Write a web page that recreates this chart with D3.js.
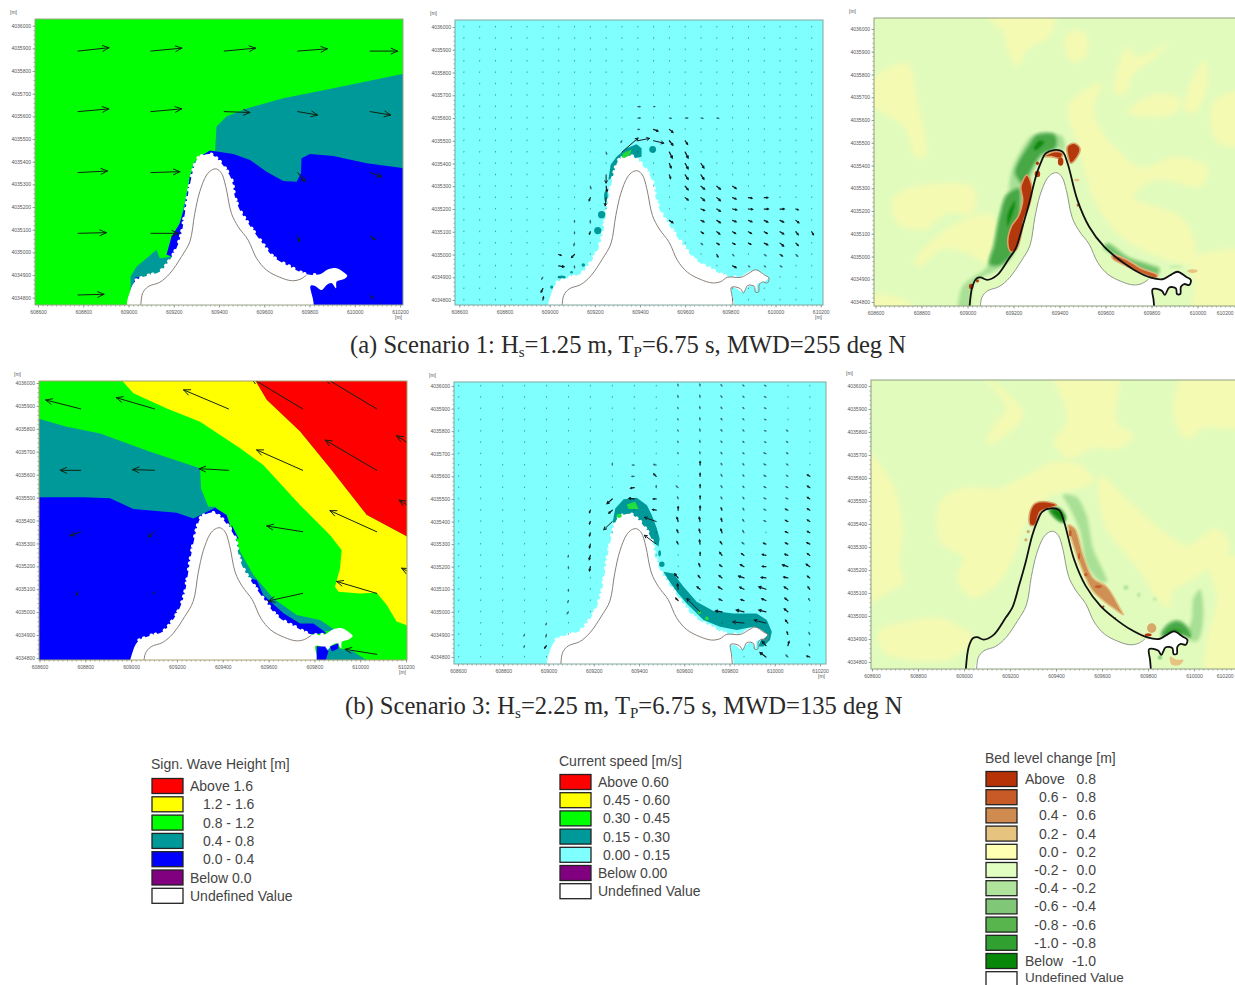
<!DOCTYPE html>
<html><head><meta charset="utf-8">
<script src="https://cdn.jsdelivr.net/npm/d3@7"></script>
<style>html,body{margin:0;background:#fff;overflow:hidden}svg{display:block}</style>
</head><body><svg id="c" width="1235" height="985"></svg>
<script>
// ---------- axis ticks (map metres) ----------
const eastTicks=[608600,608800,609000,609200,609400,609600,609800,610000,610200];
const northTicks=[4034800,4034900,4035000,4035100,4035200,4035300,4035400,4035500,4035600,4035700,4035800,4035900,4036000];

// ---------- shorelines [easting, northing] ----------
const landEdge=[[609054,4034740],[609062,4034819],[609087,4034849],[609138,4034868],[609183,4034907],[609234,4034981],[609271,4035047],[609293,4035172],[609315,4035268],[609345,4035341],[609367,4035363],[609389,4035368],[609411,4035349],[609430,4035290],[609455,4035172],[609485,4035113],[609529,4035054],[609566,4034974],[609610,4034922],[609669,4034890],[609721,4034875],[609758,4034881],[609787,4034900]];
const coastMain=[[609006,4034740],[609021,4034867],[609040,4034904],[609057,4034908],[609086,4034897],[609130,4034919],[609181,4034992],[609210,4035036],[609239,4035131],[609268,4035234],[609297,4035351],[609318,4035410],[609340,4035453],[609376,4035468],[609413,4035461],[609435,4035410],[609478,4035248],[609529,4035131],[609594,4035043],[609652,4034992],[609725,4034941],[609797,4034907]];
const coastHook=[[609848,4034900],[609884,4034919],[609913,4034933],[609950,4034911],[609971,4034897],[609964,4034875],[609942,4034879],[609928,4034867],[609925,4034835],[609911,4034835],[609906,4034860],[609877,4034864],[609858,4034831],[609844,4034850],[609805,4034856],[609809,4034809],[609815,4034740]];
const wetWest=[[609003,4034740],[609009,4034834],[609035,4034878],[609079,4034896],[609138,4034915],[609183,4034967],[609212,4035018],[609234,4035084],[609249,4035172],[609264,4035261],[609286,4035363],[609301,4035408],[609315,4035422],[609360,4035434],[609397,4035408],[609433,4035363],[609456,4035319],[609470,4035246],[609492,4035187],[609529,4035128],[609581,4035055],[609640,4034981],[609714,4034937],[609787,4034903],[609846,4034903]];
const wetHook=[[609883,4034925],[609920,4034930],[609957,4034908],[609967,4034896],[609950,4034881],[609920,4034871],[609917,4034842],[609898,4034864],[609876,4034856],[609854,4034834],[609824,4034852],[609805,4034852],[609810,4034740]];

// ---------- Scenario 1 wave height ----------
const a1Teal=[[610260,4035797],[609905,4035724],[609684,4035680],[609522,4035635],[609433,4035599],[609389,4035555],[609383,4035452],[609383,4035380],[609700,4035260],[610260,4035280]];
const a1Blue=[[609360,4035449],[609463,4035434],[609537,4035408],[609610,4035356],[609684,4035315],[609743,4035312],[609762,4035349],[609765,4035415],[609802,4035434],[609905,4035425],[610053,4035393],[610260,4035366],[610260,4034740],[609463,4034740],[609315,4035422]];
const a1TealWest=[[609009,4034893],[609035,4034937],[609124,4035011],[609138,4034974],[609183,4034981],[609197,4035025],[609234,4035158],[609286,4035393],[609315,4035422],[609227,4034952],[609079,4034864],[609009,4034790]];
const a1BlueWest=[[609301,4035408],[609271,4035334],[609253,4035216],[609227,4035128],[609190,4035069],[609168,4034989],[609197,4034981],[609256,4035099],[609301,4035290]];
const a1BlueFoot=[[609030,4034890],[609018,4034850],[609040,4034860],[609050,4034890]];
// wave arrows: easting, northing, dE, dN (metres)
const a1Arrows=[[608777,4035888,137,15],[609099,4035888,137,13],[609423,4035888,139,13],[609748,4035888,131,10],[610068,4035888,121,0],
[608777,4035621,136,12],[609099,4035621,136,12],[609423,4035621,114,-4],[609748,4035621,88,-15],[610068,4035621,91,-15],
[608777,4035352,130,7],[609099,4035352,128,4],[609748,4035352,32,-40],[610068,4035352,52,-18],
[608777,4035084,125,3],[609099,4035084,121,0],[609748,4035072,6,-25],[610068,4035072,22,-15],
[608777,4034812,115,3],[610068,4034812,12,-15]];

// ---------- Scenario 3 wave height ----------
const b1Red=[[609512,4036060],[610260,4036060],[610260,4035300],[610028,4035424],[609868,4035628],[609737,4035788],[609592,4035926]];
const b1Yellow=[[608916,4036060],[609512,4036060],[609592,4035926],[609737,4035788],[609868,4035628],[610028,4035424],[610260,4035300],[610260,4034922],[610159,4034959],[610116,4035031],[610072,4035085],[609999,4035082],[609905,4035089],[609890,4035111],[609912,4035191],[609919,4035271],[609868,4035337],[609737,4035468],[609577,4035642],[609476,4035715],[609301,4035831],[609156,4035889],[609010,4035955]];
const b1Teal=[[608540,4035860],[608719,4035809],[608865,4035780],[609083,4035700],[609301,4035628],[609305,4035540],[609337,4035460],[609374,4035460],[609301,4035380],[608540,4035380]];
const b1Blue=[[608540,4035501],[608792,4035501],[608908,4035497],[609010,4035450],[609199,4035434],[609272,4035409],[609316,4035431],[609367,4035456],[609417,4035424],[609432,4035380],[609374,4034740],[608540,4034740]];
const b1TealEast=[[609439,4035380],[609476,4035264],[609534,4035162],[609621,4035060],[609723,4034988],[609825,4034966],[609890,4034922],[609737,4034900],[609447,4035206]];
const b1BlueEast=[[609548,4035140],[609577,4035075],[609665,4034995],[609737,4034951],[609796,4034951],[609854,4034908],[609737,4034900],[609592,4035017],[609512,4035148]];
const b1TealHook=[[609912,4034842],[609970,4034828],[610028,4034790],[610040,4034740],[609825,4034740],[609810,4034850]];
const b1BlueHookA=[[609810,4034850],[609847,4034850],[609861,4034828],[609847,4034780],[609810,4034780]];
const b1BlueHookB=[[609868,4034850],[609905,4034864],[609905,4034842],[609876,4034828]];
const b1BlueEdge=[[609439,4035380],[609461,4035337],[609470,4035320],[609440,4035330]];
const b1Arrows=[[608780,4035887,-153,39],[609102,4035887,-167,49],[609425,4035887,-196,83],[609749,4035887,-225,135],[610072,4035887,-225,135],
[608780,4035619,-90,0],[609102,4035619,-96,3],[609425,4035619,-128,7],[609749,4035619,-201,89],[610072,4035619,-225,132],[610395,4035619,-236,151],
[608780,4035351,-47,-17],[609102,4035351,-26,-22],[609749,4035351,-157,25],[610072,4035351,-204,92],[610395,4035351,-225,138],
[608770,4035090,-10,-17],[609102,4035090,-4,-10],[609749,4035082,-150,-33],[610072,4035082,-175,52],[610395,4035082,-214,110],
[610072,4034816,-138,22]];

// ---------- Current speed ----------
const a2GridE=[608620,608690,608760,608830,608900,608970,609040,609110,609180,609250,609320,609390,609460,609530,609600,609670,609740,609810,609880,609950,610020,610090,610160];
const b2GridE=[608603,608700,608797,608894,608991,609088,609185,609282,609379,609476,609573,609670,609767,609864,609961,610058,610155];
const gridN=[4036000,4035950,4035900,4035850,4035800,4035750,4035700,4035650,4035600,4035550,4035500,4035450,4035400,4035350,4035300,4035250,4035200,4035150,4035100,4035050,4035000,4034950,4034900,4034850,4034800];
const a2Cap=[[609260,4035328],[609270,4035394],[609297,4035431],[609341,4035467],[609385,4035485],[609407,4035467],[609407,4035430],[609385,4035425],[609345,4035415],[609290,4035370],[609279,4035340]];
const a2CapGreen=[[609318,4035428],[609326,4035446],[609363,4035462],[609355,4035436],[609330,4035424]];
const a2Blobs=[[609456,4035462,15,15],[609230,4035175,16,16],[609213,4035105,16,16],[609249,4035255,8,24],[609149,4034954,8,8],[609053,4034901,18,7],[609009,4034857,7,7],[609097,4034922,6,6]];
// visible current vectors: grid column, grid row, east, north (vector units)
const a2Vectors=[[10,11,55,48],[11,10,40,8],[12,9,15,-6],[12,10,35,-8],[13,9,12,-10],[13,10,12,-15],[13,11,10,-20],[13,12,6,-15],[13,13,4,-12],
[14,10,8,-12],[14,11,10,-20],[14,12,10,-18],[14,13,10,-15],[14,14,10,-12],[14,15,10,-8],[15,12,10,-15],[15,13,10,-15],[15,14,12,-10],[15,15,12,-10],[16,14,12,-10],[16,15,12,-10],[17,14,12,-8],[17,15,12,-5],[18,15,12,-2],[19,15,12,0],
[15,16,12,-5],[16,16,12,-8],[17,16,14,-3],[18,16,14,-1],[19,16,14,0],[20,16,14,0],[21,16,8,-3],
[13,17,12,-8],[15,17,10,-5],[16,17,12,-8],[17,17,12,-5],[18,17,12,-5],[19,17,12,-6],[20,17,12,-6],[21,17,10,-8],
[15,18,8,-6],[16,18,10,-8],[17,18,10,-6],[18,18,10,-6],[19,18,10,-6],[20,18,12,-8],[21,18,8,-10],[22,18,6,-10],
[15,19,5,-5],[16,19,8,-5],[17,19,8,-4],[18,19,8,-4],[19,19,12,-6],[20,19,12,-10],[21,19,8,-8],
[16,20,4,-8],[17,20,4,-4],[19,20,6,-4],[20,20,8,-5],[21,20,6,-6],[17,21,12,-6],[18,21,4,-3],[19,21,4,-3],[20,21,6,-3],
[9,13,0,-28],[9,14,3,-18],[9,15,-3,-28],[8,14,2,-8],[8,15,-4,-10],[8,17,0,-8],[8,18,-3,-8],[7,17,0,-5],[7,18,0,-6],[7,19,-2,-8],[7,20,-10,-10],[7,21,0,-6],
[6,20,8,-3],[6,21,18,-3],[5,22,-4,-6],[5,23,-6,-12],[5,24,2,10],[9,11,2,-6],[10,10,-3,-5],[11,9,5,0],
[11,8,8,0],[13,8,6,-1],[14,8,8,0],[15,8,6,-1],[16,8,6,-1],[11,7,8,0],[12,7,4,0]];
const b2Cap=[[609284,4035399],[609295,4035458],[609332,4035499],[609390,4035505],[609435,4035472],[609457,4035428],[609479,4035369],[609491,4035325],[609486,4035288],[609440,4035340],[609410,4035380],[609380,4035420],[609340,4035410],[609300,4035370]];
const b2Strip=[[609508,4035178],[609552,4035170],[609597,4035111],[609655,4035045],[609729,4035004],[609817,4034993],[609920,4034993],[609965,4034964],[609987,4034912],[609979,4034875],[609950,4034846],[609928,4034846],[609942,4034883],[609950,4034912],[609906,4034934],[609832,4034920],[609758,4034934],[609685,4034964],[609611,4035037],[609567,4035089],[609530,4035141]];
const b2TealBlobs=[[609501,4035211,12,12],[609491,4035259,6,14]];
const b2Green=[[609346,4035475],[609383,4035487],[609398,4035455],[609354,4035455]];
const b2GreenBlobs=[[609312,4035425,12,9],[609667,4034998,8,8],[609700,4034971,8,8]];
const b2Vectors=[[10,0,-1,5],[10,1,-1,5],[10,2,-1,3],[10,3,-1,3],[10,4,-1,3],[10,5,-1,3],[10,6,-1,3],[10,9,-6,5],[10,10,-2,6],[10,11,0,12],[10,12,-4,14],[10,13,-4,10],[10,14,-4,8],[10,17,-12,14],[10,18,-2,18],[10,19,-8,8],[11,20,-45,45],
[11,0,-1,6],[11,1,-1,6],[11,2,-1,6],[11,3,-1,6],[11,4,-1,6],[11,5,-1,6],[11,6,-1,6],[11,7,0,12],[11,8,0,10],[11,9,0,10],[11,10,0,10],[11,11,0,14],[11,12,-3,14],[11,13,-3,12],[11,14,-2,14],[11,15,0,10],[11,16,-4,10],[11,17,-6,8],[11,18,-10,8],
[12,0,-3,4],[12,1,-3,4],[12,2,-3,4],[12,3,-3,4],[12,4,-3,4],[12,5,-3,4],[12,6,-3,4],[12,7,-3,5],[12,8,-3,6],[12,9,-3,6],[12,10,-3,6],[12,11,-3,8],[12,12,-3,10],[12,13,-4,12],[12,14,-6,8],[12,15,-8,10],[12,16,-8,6],[12,17,-10,8],[12,18,-12,8],[12,19,-10,5],[12,20,-22,3],
[13,0,-3,3],[13,1,-3,3],[13,2,-3,3],[13,3,-3,3],[13,4,-3,3],[13,5,-3,3],[13,6,-3,3],[13,7,-3,4],[13,8,-3,4],[13,9,-3,4],[13,10,-3,5],[13,11,-3,6],[13,12,-4,6],[13,13,-4,7],[13,14,-6,5],[13,15,-8,6],[13,16,-12,7],[13,17,-18,6],[13,18,-14,7],[13,19,-10,3],[13,20,-26,6],[13,21,-38,4],
[14,0,-4,2],[14,1,-4,2],[14,2,-4,2],[14,3,-4,2],[14,4,-4,2],[14,5,-4,2],[14,6,-6,3],[14,7,-6,3],[14,8,-6,3],[14,9,-6,3],[14,10,-6,3],[14,11,-6,3],[14,12,-6,3],[14,14,-8,3],[14,15,-12,3],[14,16,-12,1],[14,17,-16,2],[14,18,-24,8],[14,19,-14,6],[14,20,-24,6],[14,21,-40,10],[14,23,-12,14],[14,24,-20,15],
[15,4,-4,3],[15,5,-4,3],[15,6,-4,3],[15,7,-4,3],[15,8,-4,3],[15,9,-6,3],[15,10,-6,3],[15,11,-8,4],[15,12,-8,4],[15,13,-8,4],[15,14,-8,4],[15,15,-10,4],[15,16,-18,6],[15,17,-14,3],[15,18,-12,8],[15,19,-10,8],[15,20,-12,10],[15,21,-8,10],[15,22,-3,8],[15,23,4,14],[15,24,-6,6],
[16,8,-8,5],[16,9,-8,5],[16,10,-8,5],[16,11,-8,5],[16,12,-8,5],[16,13,-8,5],[16,14,-10,5],[16,15,-8,6],[16,16,-12,8],[16,17,-8,6],[16,18,-6,8],[16,19,-4,6],[16,22,-3,6],[16,23,-2,5],[16,24,-10,3],
[9,7,-8,2],[9,8,-8,8],[9,9,0,6],[9,10,-10,0],[9,11,-12,2],[9,12,-40,14],[9,14,-40,30],[8,7,-6,0],[8,8,-8,0],[8,9,-12,-2],[8,10,-18,2],[7,7,0,5],[7,10,-18,-16],[7,11,-12,-10],[7,12,-29,-28],
[6,11,-3,-8],[6,12,-3,-8],[6,13,-3,-10],[6,14,-3,-12],[6,15,-4,-14],[6,16,-3,-14],[5,15,-1,-5],[5,16,0,-5],[5,18,0,-6],[5,19,-2,-6],[5,20,-4,-6],[4,21,-2,-5],[4,22,-2,-8],[4,23,-6,-8],[3,22,-2,-5],[3,23,-2,-5]];

// ---------- Bed level change, Scenario 1: [class, ring] ----------
const a3Yellow=[
[[609086,4036060],[609376,4036060],[609355,4035966],[609260,4035908],[609217,4035834],[609173,4035908],[609159,4035981]],
[[609434,4035981],[609507,4035988],[609521,4035893],[609463,4035849],[609427,4035893]],
[[608570,4035761],[608738,4035849],[608781,4035688],[608818,4035439],[608774,4035439],[608723,4035571],[608636,4035629],[608570,4035673]],
[[608680,4035263],[608868,4035322],[609028,4035300],[609021,4035190],[608912,4035190],[608810,4035117],[608694,4035146]],
[[608767,4034970],[608883,4035102],[609086,4035190],[609129,4035146],[609086,4034970],[608999,4035014],[608883,4035029],[608796,4034955]],
[[608570,4034824],[608709,4034816],[608796,4034750],[608570,4034750]],
[[609434,4035659],[609579,4035761],[609550,4035629],[609652,4035468],[609754,4035395],[609899,4035439],[609986,4035424],[610044,4035395],[610015,4035307],[609826,4035336],[609725,4035263],[609928,4035175],[609986,4035073],[609986,4034970],[609826,4034999],[609652,4035102],[609550,4035248],[609521,4035336],[609463,4035541]],
[[609695,4035922],[609739,4035878],[609870,4035937],[609812,4035871],[609725,4035805],[609681,4035710],[609637,4035717]],
[[609957,4035732],[610029,4035864],[610044,4035761],[609986,4035629],[609942,4035644]],
[[610073,4035688],[610260,4035717],[610260,4035512],[610087,4035498]],
[[609695,4035637],[609826,4035717],[609928,4035688],[609899,4035629],[609754,4035615]],
[[609971,4034985],[610260,4035014],[610260,4034750],[609986,4034750],[609986,4034882]]];
const a3Bed=[
["m2",[[608963,4034750],[608977,4034868],[609028,4034912],[609072,4034941],[609101,4034985],[609144,4035058],[609173,4035219],[609188,4035366],[609217,4035439],[609275,4035527],[609347,4035541],[609413,4035527],[609420,4035468],[609376,4035476],[609318,4035439],[609275,4035336],[609231,4035190],[609202,4035014],[609130,4034941],[609057,4034904],[609021,4034868],[609006,4034750]]],
["m4",[[609095,4034965],[609115,4035050],[609140,4035180],[609170,4035270],[609224,4035300],[609230,4035212],[609195,4035014],[609140,4034960]]],
["m4",[[609205,4035370],[609265,4035490],[609300,4035535],[609380,4035535],[609385,4035480],[609320,4035445],[609265,4035355],[609245,4035315]]],
["m6",[[609282,4035476],[609311,4035515],[609340,4035505],[609296,4035461]]],
["m6",[[609170,4035190],[609209,4035256],[609209,4035212],[609170,4035120]]],
["m3",[[609608,4035058],[609696,4034999],[609797,4034963],[609833,4034948],[609826,4034919],[609754,4034941],[609652,4034999],[609594,4035036]]],
["p8",[[609437,4035439],[609434,4035483],[609463,4035498],[609489,4035476],[609478,4035439],[609449,4035410]]],
["p8",[[609188,4035021],[609175,4035058],[609190,4035131],[609220,4035175],[609240,4035248],[609232,4035307],[609258,4035358],[609280,4035307],[609272,4035234],[609245,4035161],[609238,4035117],[609212,4035029]]],
["p8",[[609333,4035439],[609376,4035461],[609413,4035454],[609405,4035432],[609362,4035439]]],
["p7",[[609630,4035007],[609696,4034985],[609754,4034948],[609826,4034919],[609819,4034904],[609754,4034926],[609696,4034955],[609630,4034992]]]];
const a3BedBlobs=[["p8",609304,4035363,12,14],["p8",609304,4035410,7,8],["p8",609016,4034868,10,12],["p8",609043,4034893,7,7],["p8",609405,4035417,12,18],["p7",609481,4035226,7,7],["p3",609475,4035336,12,6],["p3",609978,4034936,22,8],["m1",609906,4034955,30,7]];

// ---------- Bed level change, Scenario 3 ----------
const b3Yellow=[
[[608540,4035743],[608677,4035598],[608735,4035396],[608720,4035222],[608742,4035150],[608677,4035106],[608540,4035049]],
[[609388,4036060],[609664,4036060],[609664,4035844],[609736,4035786],[609678,4035728],[609562,4035728],[609460,4035685],[609388,4035757],[609446,4035844],[609431,4035931]],
[[608895,4035497],[609011,4035562],[609141,4035555],[609272,4035612],[609388,4035670],[609504,4035656],[609562,4035584],[609359,4035511],[609272,4035410],[609228,4035280],[609156,4035150],[609040,4035077],[608967,4035164],[608996,4035251],[608895,4035323]],
[[609591,4035612],[609707,4035511],[609852,4035381],[609968,4035309],[610099,4035381],[610157,4035294],[610026,4035179],[609910,4035106],[609896,4035034],[609838,4035077],[609765,4035193],[609693,4035280],[609606,4035410]],
[[608626,4034933],[608749,4034976],[608895,4034991],[608996,4034947],[609040,4034911],[608953,4034817],[608749,4034810],[608648,4034846]],
[[609968,4036060],[610260,4036060],[610260,4035829],[610041,4035815],[609968,4035772],[609910,4035873]],
[[609069,4036060],[609228,4035931],[609258,4035873],[609185,4035786],[609098,4035743],[609127,4035829],[609185,4035902]],
[[610070,4035222],[610260,4035251],[610260,4034750],[610055,4034750],[610055,4034890],[610099,4035077]]];
const b3Bed=[
["m2",[[609431,4035526],[609489,4035518],[609533,4035439],[609562,4035294],[609620,4035150],[609591,4035150],[609533,4035222],[609504,4035367],[609460,4035468]]],
["m2",[[610026,4035114],[610041,4034991],[610012,4034890],[609968,4034904],[609990,4034991],[609997,4035077]]],
["m4",[[609859,4034926],[609896,4034969],[609939,4034976],[609983,4034933],[609983,4034911],[609939,4034933],[609896,4034933],[609867,4034904]]],
["m6",[[609874,4034926],[609910,4034947],[609954,4034933],[609983,4034911],[609939,4034925],[609880,4034915]]],
["m6",[[609373,4035461],[609410,4035468],[609439,4035432],[609434,4035410],[609410,4035417]]],
["p8",[[609287,4035453],[609309,4035490],[609359,4035497],[609403,4035482],[609367,4035468],[609331,4035453],[609309,4035396],[609287,4035396]]],
["p5",[[609453,4035396],[609482,4035381],[609518,4035265],[609562,4035164],[609620,4035128],[609678,4035034],[609693,4035005],[609649,4035034],[609562,4035106],[609511,4035208],[609475,4035309]]],
["p3",[[609925,4034810],[609954,4034810],[609939,4034788],[609903,4034788],[609896,4034824]]]];
const b3BedBlobs=[["m2",609704,4035124,10,10],["m2",609760,4035092,6,10],["m2",609830,4035073,6,6],["m4",609852,4034820,7,7],["p7",609462,4035360,6,14],["p7",609500,4035260,5,14],["p7",609530,4035180,7,8],["p7",609584,4035128,15,7],["p8",609606,4035041,5,5],["p8",609656,4034991,5,4],["p4",609279,4035367,7,7],["p4",609269,4035331,7,7],["p4",609816,4034947,20,21],["p8",609801,4034918,15,7]];
const bedColors={p8:"#b5390f",p7:"#c8602c",p5:"#cf9056",p4:"#d8a868",p3:"#e6c480",m1:"#c8efaa",m2:"#a8e095",m3:"#74c36c",m4:"#46a844",m6:"#0d8a0d"};
const bedHalo={p8:"#d8a468",p7:"#e0b47c",p5:"#e6c480",m4:"#80c878",m6:"#46a844",m3:"#a8e095",m2:"#c8efaa"};

// ---------- Legends ----------
const waveLabels=["Above 1.6","1.2 - 1.6","0.8 - 1.2","0.4 - 0.8","0.0 - 0.4","Below 0.0","Undefined Value"];
const waveColors=["#ff0000","#ffff00","#00ff00","#009999","#0000ff","#800080","#ffffff"];
const speedLabels=["Above 0.60","0.45 - 0.60","0.30 - 0.45","0.15 - 0.30","0.00 - 0.15","Below 0.00","Undefined Value"];
const speedColors=["#ff0000","#ffff00","#00ff00","#009999","#80ffff","#800080","#ffffff"];
const bedLabels=[["Above","0.8"],["0.6 -","0.8"],["0.4 -","0.6"],["0.2 -","0.4"],["0.0 -","0.2"],["-0.2 -","0.0"],["-0.4 -","-0.2"],["-0.6 -","-0.4"],["-0.8 -","-0.6"],["-1.0 -","-0.8"],["Below","-1.0"],["Undefined Value",""]];
const bedLegendColors=["#b83208","#c85a28","#d08c50","#e6c480","#ffffb4","#e0ffc0","#b0e49c","#80c878","#58b44c","#30a030","#088808","#ffffff"];

const svg=d3.select("#c");
const defs=svg.append("defs");
[["soft",0.7],["soft2",2.4],["soft3",1.1]].forEach(([id,s])=>defs.append("filter").attr("id",id).attr("x","-5%").attr("y","-5%").attr("width","110%").attr("height","110%").append("feGaussianBlur").attr("stdDeviation",s));

const sans="'Liberation Sans',Arial,sans-serif", serif="'Liberation Serif','Times New Roman',serif";
const smoothClosed=d3.curveCatmullRomClosed.alpha(0.5), smoothOpen=d3.curveCatmullRom.alpha(0.5);

function panel(id,L,R,T,B,x0,x1,y0,y1,frame){
  const x=d3.scaleLinear().domain([608600,610200]).range([x0,x1]);
  const y=d3.scaleLinear().domain([4036000,4034800]).range([y0,y1]);
  defs.append("clipPath").attr("id","clip"+id).append("rect").attr("x",L).attr("y",T).attr("width",R-L).attr("height",B-T);
  const g=svg.append("g").attr("clip-path",`url(#clip${id})`);
  const minorE=d3.range(608600,610201,20), minorN=d3.range(4034800,4036001,20);
  const ax=svg.append("g").attr("class","ax");
  const mx=ax.append("g").attr("transform",`translate(0,${B})`).call(d3.axisBottom(x).tickValues(minorE).tickSize(1.6));
  const my=ax.append("g").attr("transform",`translate(${L},0)`).call(d3.axisLeft(y).tickValues(minorN).tickSize(1.6));
  mx.selectAll("text").remove(); my.selectAll("text").remove();
  const bx=ax.append("g").attr("transform",`translate(0,${B})`).call(d3.axisBottom(x).tickValues(eastTicks).tickSize(2.5).tickPadding(2.5).tickFormat(d3.format("d")));
  const by=ax.append("g").attr("transform",`translate(${L},0)`).call(d3.axisLeft(y).tickValues(northTicks).tickSize(2.5).tickPadding(1.5).tickFormat(d3.format("d")));
  ax.selectAll(".domain").remove();
  ax.selectAll("line").attr("stroke","#6f7f6f").attr("stroke-width",0.6);
  [bx,by].forEach(a=>a.selectAll("text").attr("font-size",5).attr("font-family",sans).attr("fill","#555"));
  bx.selectAll("text").filter(d=>x(d)>1225).attr("text-anchor","end").attr("x",d=>1233-x(d));
  ax.append("text").text("[m]").attr("x",L-25).attr("y",T-5).attr("font-size",5).attr("font-family",sans).attr("fill","#555");
  if(R<1235) ax.append("text").text("[m]").attr("x",R-8).attr("y",B+14).attr("font-size",5).attr("font-family",sans).attr("fill","#555");
  svg.append("rect").attr("x",L).attr("y",T).attr("width",R-L).attr("height",B-T).attr("fill","none").attr("stroke",frame).attr("stroke-width",1);
  const ring=(c=d3.curveLinearClosed)=>d3.line().x(d=>x(d[0])).y(d=>y(d[1])).curve(c);
  const open=(c=d3.curveLinear)=>d3.line().x(d=>x(d[0])).y(d=>y(d[1])).curve(c);
  return {g,x,y,ring,open,L,R,T,B};
}

function shapes(p,list,parentFilter){
  const f=p.g.append("g").attr("filter",`url(#${parentFilter})`);
  list.forEach(([pts,col])=>f.append("path").attr("d",p.ring()(pts)).attr("fill",col));
  return f;
}
function ellipses(sel,p,list,color){
  list.forEach(b=>sel.append("ellipse").attr("cx",p.x(b[0])).attr("cy",p.y(b[1])).attr("rx",Math.abs(p.x(b[0]+b[2])-p.x(b[0]))).attr("ry",Math.abs(p.y(b[1]+b[3])-p.y(b[1]))).attr("fill",color));
}
function wetArea(p,sel){
  const all=wetWest.concat(wetHook);
  sel.append("path").attr("d",p.ring(smoothClosed)(all)).attr("fill","#fff");
  sel.append("path").attr("d",p.open(smoothOpen)(wetWest.slice(2))).attr("fill","none").attr("stroke","#fff").attr("stroke-width",3.6).attr("stroke-linecap","round").attr("stroke-dasharray","0.1 5 0.1 8 0.1 4 0.1 10 0.1 6");
}
function landLine(p,sel,withHook){
  const pts=withHook?landEdge.concat(coastHook):landEdge;
  sel.append("path").attr("d",p.open(smoothOpen)(pts)).attr("fill","none").attr("stroke","#8a8078").attr("stroke-width",1);
}
function arrows(p,data,head){
  const a=p.g.append("g").attr("stroke","#12240f").attr("fill","none").attr("stroke-width",1).attr("stroke-linecap","round");
  data.forEach(([e,n,du,dv])=>{
    const x1=p.x(e),y1=p.y(n),x2=p.x(e+du),y2=p.y(n+dv);
    const ang=Math.atan2(y2-y1,x2-x1),len=Math.hypot(x2-x1,y2-y1),h=Math.min(head,len*0.45);
    a.append("path").attr("d",`M${x1},${y1}L${x2},${y2}M${x2-h*Math.cos(ang-0.42)},${y2-h*Math.sin(ang-0.42)}L${x2},${y2}L${x2-h*Math.cos(ang+0.42)},${y2-h*Math.sin(ang+0.42)}`);
  });
}
function field(p,gridE,vectors){
  const v=new Map(vectors.map(d=>[d[0]+","+d[1],d]));
  const wet=wetWest.concat(wetHook);
  const px=d3.scaleLinear().domain([0,3.4]).range([0,1]); // vector units to screen pixels
  const a=p.g.append("g").attr("stroke","#101c22").attr("fill","none").attr("stroke-linecap","round");
  gridE.forEach((e,i)=>gridN.forEach((n,j)=>{
    const d=v.get(i+","+j),x=p.x(e),y=p.y(n);
    if(!d){
      if(!d3.polygonContains(wet,[e,n])) a.append("path").attr("d",`M${x},${y}l0.1,-0.7`).attr("stroke-width",0.9).attr("opacity",0.5);
      return;
    }
    const x2=x+px(d[2]),y2=y-px(d[3]),len=Math.hypot(px(d[2]),px(d[3])),ang=Math.atan2(y2-y,x2-x),h=Math.min(3,len*0.32);
    a.append("path").attr("stroke-width",len>8?1:1.25).attr("opacity",len<2.5?0.65:1).attr("d",`M${x},${y}L${x2},${y2}M${x2-h*Math.cos(ang-0.5)},${y2-h*Math.sin(ang-0.5)}L${x2},${y2}L${x2-h*Math.cos(ang+0.5)},${y2-h*Math.sin(ang+0.5)}`);
  }));
}
function bedPanel(p,yellow,bed,blobs){
  p.g.append("rect").attr("x",p.L).attr("y",p.T).attr("width",p.R-p.L).attr("height",p.B-p.T).attr("fill","#e1fbbd");
  const soft=p.g.append("g").attr("filter","url(#soft2)");
  yellow.forEach(r=>soft.append("path").attr("d",p.ring(smoothClosed)(r)).attr("fill","#f4fab2"));
  const isDeposit=k=>k[0]==="p";
  const greens=p.g.append("g").attr("filter","url(#soft3)");
  const reds=p.g.append("g").attr("filter","url(#soft)");
  bed.forEach(([k,r])=>(isDeposit(k)?reds:greens).append("path").attr("d",p.ring(smoothClosed)(r)).attr("fill",bedColors[k]).attr("stroke",bedHalo[k]||"none").attr("stroke-width",isDeposit(k)?1.6:2.4));
  blobs.forEach(b=>ellipses(isDeposit(b[0])?reds:greens,p,[b.slice(1)],bedColors[b[0]]));
  const land=landEdge.concat(coastHook);
  const top=p.g.append("g").attr("filter","url(#soft)");
  top.append("path").attr("d",p.ring(smoothClosed)(land)).attr("fill","#fff");
  p.g.append("path").attr("d",p.open(smoothOpen)(landEdge)).attr("fill","none").attr("stroke","#8f988a").attr("stroke-width",1);
  p.g.append("path").attr("d",p.open(smoothOpen)(coastMain.concat(coastHook))).attr("fill","none").attr("stroke","#111").attr("stroke-width",1.8);
}

// (a) Scenario 1 -----------------------------------------------
const a1=panel("a1",35,403,19,305,38,400,25.7,297.7,"#9aa58a");
a1.g.append("rect").attr("x",35).attr("y",19).attr("width",368).attr("height",286).attr("fill","#00ff00");
const a1s=shapes(a1,[[a1Teal,"#009999"],[a1TealWest,"#009999"],[a1Blue,"#0000ff"],[a1BlueWest,"#0000ff"],[a1BlueFoot,"#0000ff"]],"soft");
wetArea(a1,a1s); landLine(a1,a1s,false);
arrows(a1,a1Arrows,7);

const a2=panel("a2",455,823,20,305,459.3,820.7,27,300,"#7fa8a0");
a2.g.append("rect").attr("x",455).attr("y",20).attr("width",368).attr("height",285).attr("fill","#80ffff");
const a2s=shapes(a2,[[a2Cap,"#009999"]],"soft");
ellipses(a2s,a2,a2Blobs,"#009999");
wetArea(a2,a2s);
a2s.append("path").attr("d",a2.ring()(a2CapGreen)).attr("fill","#22d63a");
landLine(a2,a2s,true);
field(a2,a2GridE,a2Vectors);

const a3=panel("a3",874,1242,18,306,875.5,1243.5,29,302,"#8f9f80");
bedPanel(a3,a3Yellow,a3Bed,a3BedBlobs);

// (b) Scenario 3 -----------------------------------------------
const b1=panel("b1",39,407,381,660,39.5,406,383,658,"#a5a070");
b1.g.append("rect").attr("x",39).attr("y",381).attr("width",368).attr("height",279).attr("fill","#00ff00");
const b1s=shapes(b1,[[b1Red,"#ff0000"],[b1Yellow,"#ffff00"],[b1Teal,"#009999"],[b1TealEast,"#009999"],[b1TealHook,"#009999"],[b1Blue,"#0000ff"],[b1BlueEast,"#0000ff"],[b1BlueEdge,"#0000ff"]],"soft");
wetArea(b1,b1s); landLine(b1,b1s,false);
// the two small basins inside the harbour stay coloured on top of the land mask
[b1BlueHookA,b1BlueHookB].forEach(r=>b1s.append("path").attr("d",b1.ring()(r)).attr("fill","#0000ff"));
arrows(b1,b1Arrows,7);

const b2=panel("b2",454,826,382,664,458,820,386,657,"#7fa8a0");
b2.g.append("rect").attr("x",454).attr("y",382).attr("width",372).attr("height",282).attr("fill","#80ffff");
const b2s=shapes(b2,[[b2Cap,"#009999"],[b2Strip,"#009999"]],"soft");
ellipses(b2s,b2,b2TealBlobs,"#009999");
wetArea(b2,b2s);
b2s.append("path").attr("d",b2.ring()(b2Green)).attr("fill","#22e03a");
ellipses(b2s,b2,b2GreenBlobs,"#22e03a");
landLine(b2,b2s,true);
field(b2,b2GridE,b2Vectors);

const b3=panel("b3",871,1240,380,669,872,1240,386,662,"#8f9f80");
bedPanel(b3,b3Yellow,b3Bed,b3BedBlobs);

// captions -----------------------------------------------------
function caption(x,y,parts){
  const t=svg.append("text").attr("x",x).attr("y",y).attr("font-family",serif).attr("font-size",24.6).attr("fill","#2a2a2a");
  let dy=0;
  parts.forEach(p=>{
    if(typeof p==="string"){ t.append("tspan").text(p).attr("dy",dy); dy=0; }
    else { t.append("tspan").text(p[0]).attr("font-size",15).attr("dy",4); dy=-4; }
  });
}
caption(350,353,["(a) Scenario 1: H",["s"],"=1.25 m, T",["P"],"=6.75 s, MWD=255 deg N"]);
caption(345,714,["(b) Scenario 3: H",["s"],"=2.25 m, T",["P"],"=6.75 s, MWD=135 deg N"]);

// legends ------------------------------------------------------
function legend(title,x,yTitle,yFirst,step,labels,colors,indent){
  const g=svg.append("g").attr("font-family",sans).attr("font-size",14).attr("fill","#444");
  g.append("text").text(title).attr("x",x-1).attr("y",yTitle);
  colors.forEach((c,i)=>{
    const yy=yFirst+i*step;
    g.append("rect").attr("x",x).attr("y",yy-7.5).attr("width",31).attr("height",15).attr("fill",c).attr("stroke","#222").attr("stroke-width",1.3);
    const lab=labels[i];
    if(Array.isArray(lab)){
      if(lab[1]===""){ g.append("text").text(lab[0]).attr("x",x+39).attr("y",yy+3).attr("font-size",13.5); return; }
      const word=lab[0][0]==="A"||lab[0][0]==="B";
      g.append("text").text(lab[0]).attr("x",x+(word?39:81)).attr("text-anchor",word?"start":"end").attr("y",yy+5);
      g.append("text").text(lab[1]).attr("x",x+110).attr("text-anchor","end").attr("y",yy+5);
    } else {
      const ind=/^[0-9]/.test(lab)?indent:0;
      g.append("text").text(lab).attr("x",x+38+ind).attr("y",yy+5);
    }
  });
}
legend("Sign. Wave Height [m]",152,769,786,18.3,waveLabels,waveColors,13);
legend("Current speed [m/s]",560,766,782,18.2,speedLabels,speedColors,5);
legend("Bed level change [m]",986,763,779,18.2,bedLabels,bedLegendColors,0);
</script></body></html>
